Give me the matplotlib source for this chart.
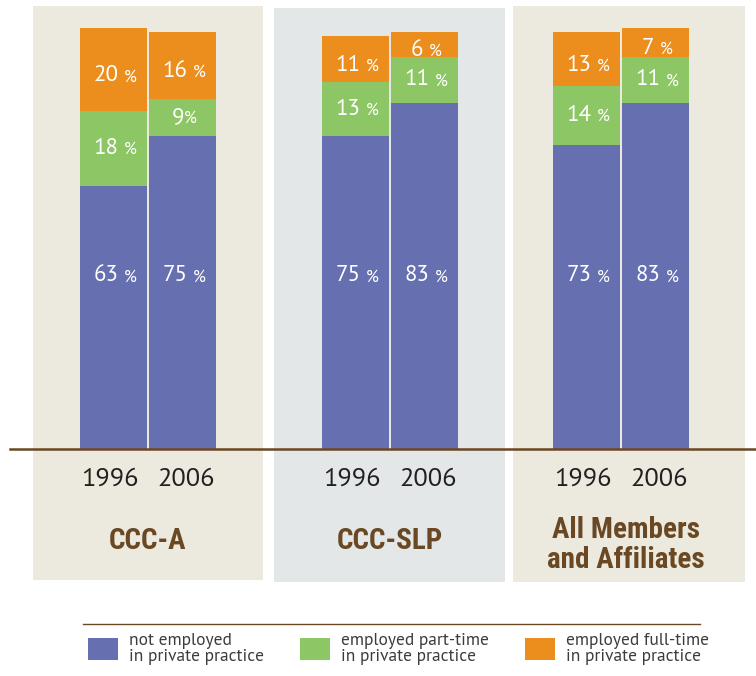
import matplotlib
matplotlib.use("Agg")
import matplotlib.pyplot as plt
from matplotlib.patches import Rectangle, Patch
from matplotlib.offsetbox import TextArea, HPacker, AnnotationBbox
from matplotlib import font_manager

# ---------------- data ----------------
groups = ["CCC-A", "CCC-SLP", "All Members\nand Affiliates"]
years = ["1996", "2006"]
not_employed = [[63, 75], [75, 83], [73, 83]]
part_time = [[18, 9], [13, 11], [14, 11]]
full_time = [[20, 16], [11, 6], [13, 7]]
legend_labels = ["not employed\nin private practice",
                 "employed part-time\nin private practice",
                 "employed full-time\nin private practice"]

# ---------------- style ----------------
BLUE = "#6670B0"
GREEN = "#8CC665"
ORANGE = "#EC8E1E"
BEIGE = "#ECE9DF"
GREY = "#E3E7E8"
BROWN = "#6A4823"
DARK = "#231F20"

avail = {f.name for f in font_manager.fontManager.ttflist}
BASE = "PT Sans" if "PT Sans" in avail else "Open Sans"
NARROW = "Roboto Condensed" if "Roboto Condensed" in avail else BASE

W, H = 756, 676
fig = plt.figure(figsize=(W / 100, H / 100), dpi=100)
fig.patch.set_facecolor("white")

def fx(px):
    return px / W

def fy(py):
    return 1 - py / H

# panel backgrounds (pixel extents from top-left)
panels = [(33, 6, 263, 580, BEIGE), (274, 8, 505, 582, GREY), (513, 6, 745, 582, BEIGE)]
for x0, y0, x1, y1, c in panels:
    fig.add_artist(Rectangle((fx(x0), fy(y1)), (x1 - x0) / W, (y1 - y0) / H,
                             transform=fig.transFigure, facecolor=c,
                             edgecolor="none", zorder=0))

# axes in pixel-like x units, percent y units
px_per_pct = 4.17
base_px = 449
ax = fig.add_axes([0, 0, 1, 1])
ax.set_xlim(0, W)
ax.set_ylim(-(H - base_px) / px_per_pct, base_px / px_per_pct)
ax.patch.set_alpha(0)
ax.axis("off")

group_centers = [148, 390, 621]
bar_w = 67
offsets = [-34.5, 34.5]

def pct_label(x, y, num, sep=4):
    a = TextArea(str(num), textprops=dict(color="white", fontsize=16.5, family=BASE))
    b = TextArea("%", textprops=dict(color="white", fontsize=12, family=BASE))
    pk = HPacker(children=[a, b], align="baseline", pad=0, sep=sep)
    ab = AnnotationBbox(pk, (x + 1.5, y), frameon=False, box_alignment=(0.5, 0.5),
                        xycoords="data", zorder=5)
    ax.add_artist(ab)

for gi, gc in enumerate(group_centers):
    for yi, off in enumerate(offsets):
        x = gc + off
        ne = not_employed[gi][yi]
        pt = part_time[gi][yi]
        ft = full_time[gi][yi]
        ax.bar(x, ne, width=bar_w, color=BLUE, zorder=2)
        ax.bar(x, pt, bottom=ne, width=bar_w, color=GREEN, zorder=2)
        ax.bar(x, ft, bottom=ne + pt, width=bar_w, color=ORANGE, zorder=2)
        pct_label(x, 41.5, ne)
        pct_label(x, ne + pt / 2, pt, sep=0 if pt < 10 else 4)
        pct_label(x, ne + pt + ft / 2 - 1.5, ft)
        ax.text(x + (-4 if yi == 0 else 4), -(479 - base_px) / px_per_pct, years[yi],
                ha="center", va="center", fontsize=19, color=DARK, family=BASE)
    ax.text(gc if gi < 2 else 626, -((541 if gi < 2 else 545) - base_px) / px_per_pct,
            groups[gi], ha="center", va="center", fontsize=21,
            fontweight="bold", color=BROWN, family=NARROW, linespacing=1.05)

# baseline
ax.axhline(0, xmin=fx(10), xmax=1, color=BROWN, lw=1.8, zorder=3)

# legend separator line
fig.add_artist(plt.Line2D([fx(83), fx(700)], [fy(624), fy(624)],
                          transform=fig.transFigure, color=BROWN, lw=1))

handles = [Patch(facecolor=c, edgecolor="none") for c in (BLUE, GREEN, ORANGE)]
leg = fig.legend(handles, legend_labels, loc="upper left",
                 bbox_to_anchor=(fx(88), fy(633)), bbox_transform=fig.transFigure,
                 ncol=3, frameon=False, borderpad=0, borderaxespad=0,
                 handlelength=1.72, handleheight=1.6, handletextpad=0.62,
                 columnspacing=2.1, prop=dict(family=BASE, size=12.5))
for t in leg.get_texts():
    t.set_color("#3C3C3C")
    t.set_linespacing(1.0)

fig.savefig("out.png", dpi=100)
